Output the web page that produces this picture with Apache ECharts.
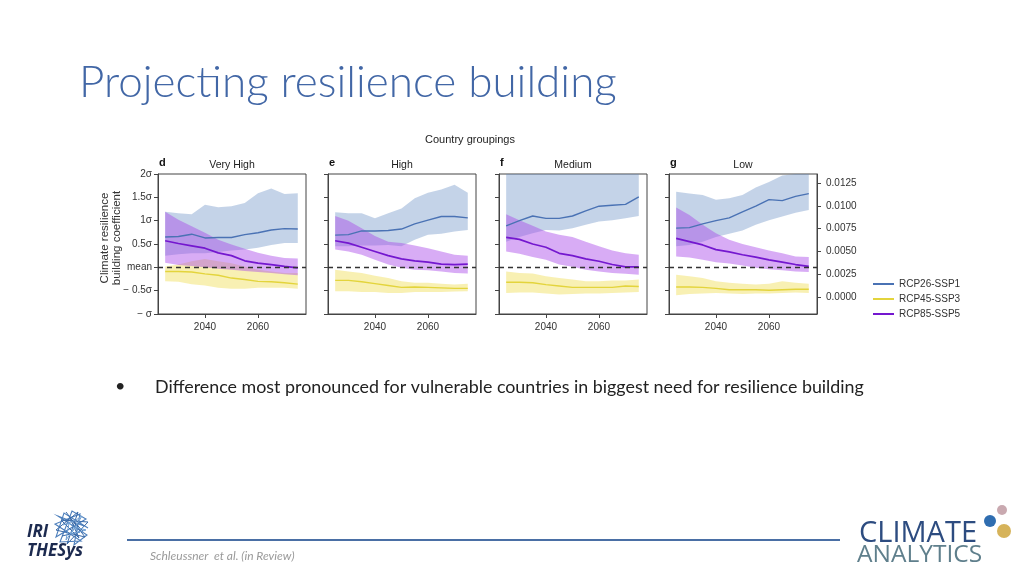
<!DOCTYPE html>
<html>
<head>
<meta charset="utf-8">
<script src="https://cdn.jsdelivr.net/npm/echarts@6/dist/echarts.min.js"></script>
<style>html,body{margin:0;padding:0;background:#fff;}#c{width:1024px;height:576px;}</style>
</head>
<body>
<div id="c"></div>
<script>
// ---------- data ----------
const years = [2025, 2030, 2035, 2040, 2045, 2050, 2055, 2060, 2065, 2070, 2075];
const scenarioNames = ['RCP26-SSP1', 'RCP45-SSP3', 'RCP85-SSP5'];
const panelLetters = ['d', 'e', 'f', 'g'];
const panelTitles = ['Very High', 'High', 'Medium', 'Low'];
const sigmaTicks = [-1, -0.5, 0, 0.5, 1, 1.5, 2];
const sigmaLabels = ['− σ', '− 0.5σ', 'mean', '0.5σ', '1σ', '1.5σ', '2σ'];
const rightTicks = [0, 0.0025, 0.005, 0.0075, 0.01, 0.0125];
const yearTicks = [2040, 2060];

// Very High (d)
const vhSsp1Mean = [0.65, 0.66, 0.71, 0.63, 0.64, 0.64, 0.70, 0.74, 0.80, 0.83, 0.82];
const vhSsp1Low  = [0.25, 0.28, 0.30, 0.30, 0.33, 0.36, 0.38, 0.42, 0.48, 0.52, 0.52];
const vhSsp1High = [1.19, 1.16, 1.14, 1.34, 1.29, 1.31, 1.38, 1.59, 1.69, 1.57, 1.59];
const vhSsp3Mean = [-0.09, -0.09, -0.10, -0.14, -0.17, -0.23, -0.26, -0.30, -0.31, -0.33, -0.36];
const vhSsp3Low  = [-0.30, -0.31, -0.36, -0.39, -0.44, -0.46, -0.46, -0.44, -0.44, -0.44, -0.46];
const vhSsp3High = [0.02, 0.06, 0.13, 0.18, 0.13, 0.09, 0.02, -0.05, -0.09, -0.12, -0.12];
const vhSsp5Mean = [0.57, 0.51, 0.46, 0.41, 0.31, 0.25, 0.14, 0.09, 0.06, 0.02, -0.01];
const vhSsp5Low  = [0.10, 0.05, 0.03, 0.00, -0.03, -0.05, -0.08, -0.10, -0.12, -0.15, -0.17];
const vhSsp5High = [1.19, 1.02, 0.88, 0.74, 0.59, 0.49, 0.40, 0.31, 0.25, 0.20, 0.19];

// High (e)
const hiSsp1Mean = [0.69, 0.70, 0.78, 0.78, 0.79, 0.82, 0.93, 1.01, 1.09, 1.09, 1.06];
const hiSsp1Low  = [0.45, 0.45, 0.47, 0.47, 0.48, 0.45, 0.59, 0.70, 0.72, 0.77, 0.80];
const hiSsp1High = [1.18, 1.16, 1.16, 1.05, 1.16, 1.26, 1.48, 1.60, 1.67, 1.77, 1.60];
const hiSsp3Mean = [-0.28, -0.28, -0.31, -0.35, -0.39, -0.43, -0.42, -0.43, -0.44, -0.45, -0.45];
const hiSsp3Low  = [-0.51, -0.51, -0.53, -0.53, -0.55, -0.55, -0.53, -0.53, -0.53, -0.52, -0.51];
const hiSsp3High = [-0.05, -0.09, -0.12, -0.18, -0.23, -0.30, -0.33, -0.33, -0.35, -0.37, -0.35];
const hiSsp5Mean = [0.57, 0.52, 0.43, 0.34, 0.25, 0.18, 0.14, 0.11, 0.07, 0.06, 0.07];
const hiSsp5Low  = [0.38, 0.34, 0.27, 0.16, 0.06, -0.01, -0.05, -0.06, -0.09, -0.12, -0.13];
const hiSsp5High = [1.10, 1.00, 0.84, 0.67, 0.55, 0.52, 0.47, 0.41, 0.34, 0.27, 0.25];

// Medium (f)
const meSsp1Mean = [0.89, 1.00, 1.10, 1.05, 1.05, 1.10, 1.21, 1.31, 1.33, 1.35, 1.51];
const meSsp1Low  = [0.55, 0.65, 0.73, 0.80, 0.79, 0.84, 0.91, 0.98, 1.01, 1.05, 1.10];
const meSsp1High = [2.00, 2.00, 2.00, 2.00, 2.00, 2.00, 2.00, 2.00, 2.00, 2.00, 2.00];
const meSsp3Mean = [-0.32, -0.32, -0.33, -0.37, -0.40, -0.43, -0.43, -0.43, -0.43, -0.40, -0.41];
const meSsp3Low  = [-0.55, -0.54, -0.54, -0.56, -0.58, -0.57, -0.56, -0.56, -0.55, -0.54, -0.53];
const meSsp3High = [-0.09, -0.12, -0.13, -0.19, -0.23, -0.26, -0.30, -0.30, -0.28, -0.28, -0.26];
const meSsp5Mean = [0.64, 0.60, 0.50, 0.43, 0.30, 0.25, 0.18, 0.13, 0.06, 0.01, 0.01];
const meSsp5Low  = [0.34, 0.29, 0.22, 0.16, 0.06, 0.01, -0.05, -0.09, -0.12, -0.14, -0.16];
const meSsp5High = [1.14, 1.01, 0.89, 0.77, 0.70, 0.65, 0.55, 0.45, 0.36, 0.30, 0.27];

// Low (g)
const loSsp1Mean = [0.84, 0.85, 0.93, 1.00, 1.06, 1.19, 1.31, 1.45, 1.43, 1.52, 1.58];
const loSsp1Low  = [0.45, 0.48, 0.55, 0.65, 0.72, 0.79, 0.91, 1.01, 1.09, 1.17, 1.23];
const loSsp1High = [1.62, 1.58, 1.55, 1.45, 1.48, 1.55, 1.71, 1.83, 1.97, 2.00, 2.00];
const loSsp3Mean = [-0.42, -0.42, -0.43, -0.45, -0.48, -0.48, -0.48, -0.49, -0.48, -0.47, -0.47];
const loSsp3Low  = [-0.60, -0.57, -0.56, -0.55, -0.56, -0.57, -0.56, -0.56, -0.55, -0.54, -0.55];
const loSsp3High = [-0.16, -0.19, -0.23, -0.30, -0.33, -0.35, -0.37, -0.35, -0.30, -0.33, -0.35];
const loSsp5Mean = [0.62, 0.55, 0.48, 0.38, 0.33, 0.27, 0.22, 0.16, 0.11, 0.06, 0.02];
const loSsp5Low  = [0.23, 0.21, 0.16, 0.11, 0.08, 0.04, -0.01, -0.04, -0.06, -0.09, -0.10];
const loSsp5High = [1.28, 1.12, 0.91, 0.73, 0.59, 0.50, 0.43, 0.36, 0.30, 0.23, 0.22];

// ---------- build ----------
const panelData = [
  [[vhSsp1Mean, vhSsp1Low, vhSsp1High], [vhSsp3Mean, vhSsp3Low, vhSsp3High], [vhSsp5Mean, vhSsp5Low, vhSsp5High]],
  [[hiSsp1Mean, hiSsp1Low, hiSsp1High], [hiSsp3Mean, hiSsp3Low, hiSsp3High], [hiSsp5Mean, hiSsp5Low, hiSsp5High]],
  [[meSsp1Mean, meSsp1Low, meSsp1High], [meSsp3Mean, meSsp3Low, meSsp3High], [meSsp5Mean, meSsp5Low, meSsp5High]],
  [[loSsp1Mean, loSsp1Low, loSsp1High], [loSsp3Mean, loSsp3Low, loSsp3High], [loSsp5Mean, loSsp5Low, loSsp5High]]
];
const lineColors = ['#4a72b4', '#e3d43c', '#7417cf'];
const bandColors = ['#5b84c0', '#efdc4a', '#a846e8'];
const bandOpacity = [0.36, 0.42, 0.45];
const gridLefts = [158, 328, 499, 669];
const gridWidth = 148;
const gridTop = 174, gridHeight = 140;
const FONT = 'Liberation Sans, Arial, sans-serif';
const axisColor = '#444';

const grids = [], xAxes = [], yAxes = [], series = [];
gridLefts.forEach((l, i) => {
  grids.push({left: l, top: gridTop, width: gridWidth, height: gridHeight, show: true,
    borderColor: axisColor, borderWidth: 1, backgroundColor: 'transparent', containLabel: false});
  xAxes.push({type: 'value', gridIndex: i, min: 2022.3, max: 2078.1,
    axisLine: {show: true, onZero: false, lineStyle: {color: axisColor, width: 1}},
    axisTick: {show: true, length: 4, lineStyle: {color: axisColor}, customValues: yearTicks},
    axisLabel: {show: true, customValues: yearTicks, color: '#333', fontSize: 10, fontFamily: FONT, margin: 8,
      formatter: v => String(Math.round(v))},
    splitLine: {show: false}});
  yAxes.push({type: 'value', gridIndex: i, min: -1, max: 2, interval: 0.5,
    axisLine: {show: true, onZero: false, lineStyle: {color: axisColor, width: 1}},
    axisTick: {show: true, length: 4, lineStyle: {color: axisColor}},
    axisLabel: {show: i === 0, color: '#333', fontSize: 10, fontFamily: FONT, margin: 6,
      formatter: v => { const k = sigmaTicks.findIndex(t => Math.abs(t - v) < 1e-9); return k >= 0 ? sigmaLabels[k] : ''; }},
    splitLine: {show: false}});
});
// right axis on last panel
yAxes.push({type: 'value', gridIndex: 3, position: 'right', min: -0.001864, max: 0.01349,
  axisLine: {show: true, onZero: false, lineStyle: {color: axisColor, width: 1}},
  axisTick: {show: true, length: 4, lineStyle: {color: axisColor}, customValues: rightTicks},
  axisLabel: {show: true, customValues: rightTicks, color: '#333', fontSize: 10, fontFamily: FONT, margin: 9,
    formatter: v => v.toFixed(4)},
  splitLine: {show: false}});

const pts = arr => arr.map((v, k) => [years[k], v]);
function bandSeries(i, lo, hi, color, opacity) {
  return {
    type: 'custom', xAxisIndex: i, yAxisIndex: i, clip: true, silent: true, z: 2,
    data: [[years[0], lo[0]]],
    renderItem: (params, api) => {
      const up = years.map((y, k) => api.coord([y, hi[k]]));
      const dn = years.map((y, k) => api.coord([y, lo[k]])).reverse();
      return {type: 'polygon', shape: {points: up.concat(dn)}, style: {fill: color, opacity: opacity}};
    }
  };
}
panelData.forEach((pd, i) => {
  [0, 1, 2].forEach(s => {
    const [mean, lo, hi] = pd[s];
    series.push(bandSeries(i, lo, hi, bandColors[s], bandOpacity[s]));
  });
  [0, 1, 2].forEach(s => {
    const ser = {type: 'line', name: scenarioNames[s], xAxisIndex: i, yAxisIndex: i, data: pts(pd[s][0]),
      symbol: 'none', lineStyle: {color: lineColors[s], width: s === 2 ? 1.7 : 1.4},
      itemStyle: {color: lineColors[s]}, z: 4};
    if (s === 0) {
      ser.markLine = {silent: true, symbol: 'none', label: {show: false},
        lineStyle: {color: '#333', type: [5, 4], width: 1.4}, data: [{yAxis: 0}], z: 5};
    }
    series.push(ser);
  });
});

// graphics: slide elements and chart labels
const graphic = [
  {type: 'text', left: 79, top: 61, style: {text: 'Projecting resilience building', fill: '#4267a6',
    font: '300 44px Lato, sans-serif'}},
  {type: 'text', x: 470, y: 140, style: {text: 'Country groupings', fill: '#222', font: '11px ' + FONT, textAlign: 'center', textVerticalAlign: 'middle'}},
  {type: 'text', x: 111, y: 238, rotation: Math.PI / 2, style: {text: 'Climate resilience\nbuilding coefficient',
    fill: '#333', font: '11.5px ' + FONT, textAlign: 'center', textVerticalAlign: 'middle', lineHeight: 12}},
  {type: 'text', left: 115, top: 377, style: {text: '•', fill: '#222', font: '18px Lato, sans-serif'}},
  {type: 'text', left: 155, top: 378, style: {text: 'Difference most pronounced for vulnerable countries in biggest need for resilience building',
    fill: '#222', font: '17.85px Lato, sans-serif'}},
  {type: 'line', shape: {x1: 127, y1: 540, x2: 840, y2: 540}, style: {stroke: '#4a6fa5', lineWidth: 2}},
  {type: 'text', left: 150, top: 550, style: {text: 'Schleussner  et al. (in Review)', fill: '#9a9a9a', font: 'italic 12px Lato, sans-serif'}},
  // IRI THESys logo
  {type: 'text', left: 27, top: 524, style: {text: 'IRI', fill: '#1c2a4f', font: 'italic bold 17px "Open Sans", sans-serif'}},
  {type: 'text', left: 27, top: 543, style: {text: 'THESys', fill: '#1c2a4f', font: 'italic bold 17px "Open Sans", sans-serif'}},
  {type: 'polyline', shape: {points: [[88, 528], [64, 513], [56, 537], [86, 519], [72, 511], [60, 542], [81, 541], [55, 524], [80, 514], [74, 545], [87, 535], [58, 516], [84, 526]]},
    style: {stroke: '#4d7fbc', lineWidth: 1.1, fill: 'none'}},
  {type: 'polyline', shape: {points: [[66, 512], [85, 537], [56, 530], [78, 512], [67, 544], [88, 522], [61, 520], [79, 538], [70, 518], [83, 531], [62, 536]]},
    style: {stroke: '#3a6aa8', lineWidth: 1, fill: 'none'}},
  {type: 'polyline', shape: {points: [[63, 525], [76, 520], [82, 516], [71, 534], [86, 530], [75, 527], [66, 540], [69, 523], [80, 533]]},
    style: {stroke: '#6fa0d4', lineWidth: 1, fill: 'none'}},
  // Climate Analytics logo
  {type: 'text', left: 859, top: 519, style: {text: 'CLIMATE', fill: '#2d4c80', font: '29px "Open Sans", sans-serif'}},
  {type: 'text', left: 857, top: 543, style: {text: 'ANALYTICS', fill: '#5f7f8c', font: '24.5px "Open Sans", sans-serif'}},
  {type: 'circle', shape: {cx: 990, cy: 521, r: 6}, style: {fill: '#2f6db0'}},
  {type: 'circle', shape: {cx: 1002, cy: 510, r: 5}, style: {fill: '#c9a9b0'}},
  {type: 'circle', shape: {cx: 1004, cy: 531, r: 7}, style: {fill: '#d6b35a'}}
];
panelLetters.forEach((l, i) => {
  graphic.push({type: 'text', left: gridLefts[i] + 1, top: 157, style: {text: l, fill: '#111', font: 'bold 11px ' + FONT}});
  graphic.push({type: 'text', x: gridLefts[i] + gridWidth / 2, y: 165, style: {text: panelTitles[i], fill: '#222', font: '10.5px ' + FONT, textAlign: 'center', textVerticalAlign: 'middle'}});
});

const option = {
  animation: false,
  backgroundColor: '#ffffff',
  grid: grids, xAxis: xAxes, yAxis: yAxes, series: series,
  legend: {orient: 'vertical', left: 868, top: 273, itemWidth: 21, itemHeight: 2, itemGap: 3, icon: 'rect',
    data: scenarioNames, textStyle: {color: '#333', fontSize: 10, fontFamily: FONT, lineHeight: 12}},
  graphic: graphic
};
const chart = echarts.init(document.getElementById('c'));
chart.setOption(option);
</script>
</body>
</html>
